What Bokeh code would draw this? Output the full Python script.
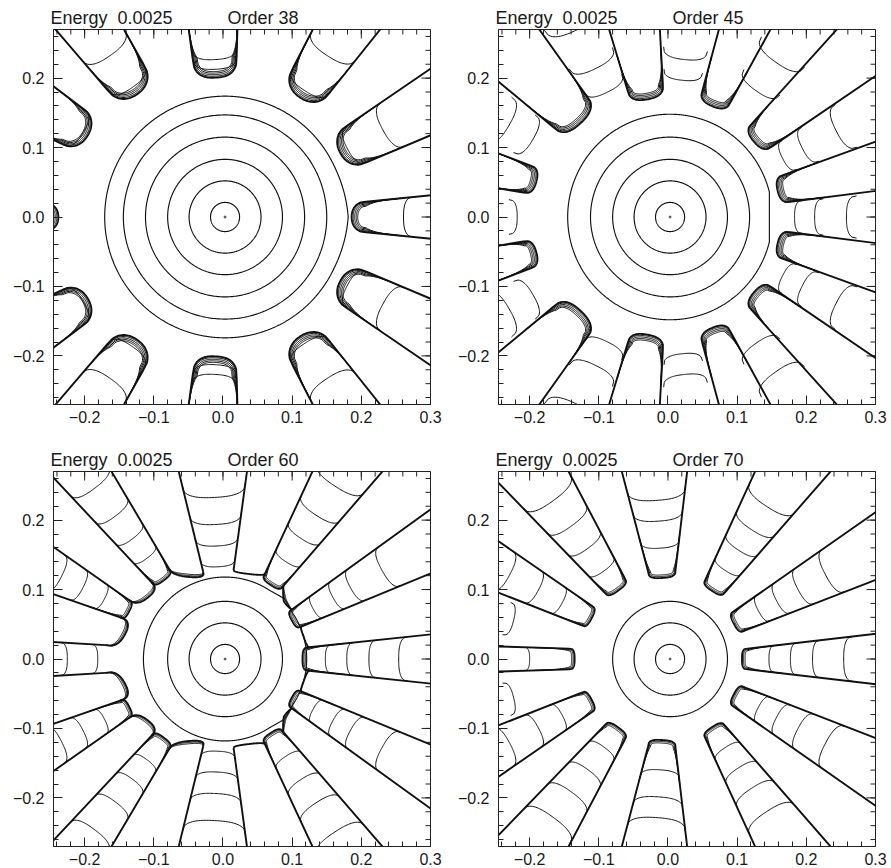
import numpy as np
from bokeh.plotting import figure
from bokeh.models import FixedTicker, Range1d
from bokeh.layouts import gridplot
from bokeh.embed import file_html
from bokeh.resources import INLINE

# ---------------------------------------------------------------- axes / text
X_RANGE = (-0.245, 0.30)
Y_RANGE = (-0.27, 0.27)
X_TICKS = [-0.2, -0.1, 0.0, 0.1, 0.2, 0.3]
X_TICK_LABELS = ["\u22120.2", "\u22120.1", "0.0", "0.1", "0.2", "0.3"]
Y_TICKS = [-0.2, -0.1, 0.0, 0.1, 0.2]
Y_TICK_LABELS = ["\u22120.2", "\u22120.1", "0.0", "0.1", "0.2"]
X_MINOR = [-0.24, -0.22, -0.20, -0.18, -0.16, -0.14, -0.12, -0.10, -0.08, -0.06,
           -0.04, -0.02, 0.0, 0.02, 0.04, 0.06, 0.08, 0.10, 0.12, 0.14, 0.16,
           0.18, 0.20, 0.22, 0.24, 0.26, 0.28, 0.30]
Y_MINOR = [-0.26, -0.24, -0.22, -0.20, -0.18, -0.16, -0.14, -0.12, -0.10, -0.08,
           -0.06, -0.04, -0.02, 0.0, 0.02, 0.04, 0.06, 0.08, 0.10, 0.12, 0.14,
           0.16, 0.18, 0.20, 0.22, 0.24, 0.26]
ENERGY = "0.0025"
ORDERS = [38, 45, 60, 70]
CENTER_X = 0.003          # centre of the invariant circles

# island kinds: 0 = arcs only, 1 = capped island,
#               2 = heavy cap closing the gap between the two neighbours,
#               3 = open-ended channel (walls, no cap)

# ---------------------------------------------------------------- order 38
RINGS_38 = [0.021, 0.052, 0.083, 0.115, 0.147]
SEP_38 = 0.174
PHI_38 = [0, 28.5, 57, 93, 125, 149, 180]
TIP_38 = [0.186, 0.193, 0.205, 0.201, 0.216, 0.228, 0.238]
HALF_38 = [0.022, 0.030, 0.032, 0.032, 0.032, 0.030, 0.020]
SPREAD_38 = [0.10, 0.10, 0.10, 0.08, 0.10, 0.10, 0.10]
KIND_38 = [1, 1, 1, 1, 1, 1, 1]
CAP_P_38 = [2.2, 2.2, 2.2, 2.6, 2.2, 2.2, 2.2]
ARCS_38 = [[0.075], [0.012, 0.07], [0.012, 0.072], [0.012, 0.026],
           [0.012, 0.068], [0.008], []]

# ---------------------------------------------------------------- order 45
RINGS_45 = [0.021, 0.052, 0.083, 0.115]
SEP_45 = 0.148
PHI_45 = [0, 13.5, 27, 41, 55, 68, 84, 100, 116, 133, 150, 165, 180]
TIP_45 = [0.162, 0.163, 0.168, 0.165, 0.172, 0.172, 0.178, 0.172, 0.180,
          0.185, 0.195, 0.197, 0.218]
HALF_45 = [0.021, 0.020, 0.020, 0.022, 0.024, 0.022, 0.024, 0.026, 0.026,
           0.033, 0.026, 0.020, 0.024]
SPREAD_45 = [0.085, 0.11, 0.12, 0.12, 0.12, 0.12, 0.12, 0.12, 0.12,
             0.13, 0.12, 0.10, 0.08]
KIND_45 = [0, 1, 0, 1, 0, 1, 0, 1, 0, 1, 0, 1, 0]
CAP_P_45 = [2.5] * 13
ARCS_45 = [[0.021, 0.050, 0.096], [], [0.018, 0.050, 0.105], [],
           [0.05, 0.10], [], [0.02, 0.05], [], [0.02, 0.058, 0.12], [],
           [0.03, 0.07], [], [0.0]]

# ---------------------------------------------------------------- order 60
RINGS_60 = [0.021, 0.052, 0.083]
SEP_60 = 0.118
PHI_60 = [0, 15, 29, 45, 57, 74, 93, 112, 127, 140, 153, 166, 180]
TIP_60 = [0.115, 0.122, 0.114, 0.121, 0.127, 0.128, 0.127, 0.128, 0.142,
          0.140, 0.152, 0.146, 0.170]
HALF_60 = [0.017, 0.014, 0.014, 0.012, 0.016, 0.022, 0.022, 0.020, 0.016,
           0.020, 0.014, 0.016, 0.020]
SPREAD_60 = [0.105, 0.10, 0.118, 0.10, 0.14, 0.10, 0.19, 0.10, 0.11, 0.10,
             0.14, 0.10, 0.06]
KIND_60 = [1, 2, 1, 2, 1, 2, 3, 2, 1, 2, 1, 2, 3]
CAP_P_60 = [3.0, 2.5, 3.0, 1.2, 3.0, 2.5, 3.0, 2.5, 3.0, 2.5, 3.0, 2.5, 3.0]
ARCS_60 = [[0.033, 0.064, 0.096, 0.139], [], [0.035, 0.068, 0.097, 0.149], [],
           [0.04, 0.08, 0.12, 0.17], [], [0.006, 0.036, 0.067, 0.106], [],
           [0.04, 0.075, 0.116, 0.166], [], [0.04, 0.075, 0.11], [],
           [0.011, 0.055]]

# ---------------------------------------------------------------- order 70
RINGS_70 = [0.021, 0.052, 0.083]
SEP_70 = None
PHI_70 = [0, 28, 57, 94, 126, 152, 166, 180]
TIP_70 = [0.107, 0.108, 0.117, 0.117, 0.122, 0.125, 0.200, 0.135]
HALF_70 = [0.015, 0.016, 0.017, 0.020, 0.018, 0.016, 0.020, 0.015]
SPREAD_70 = [0.115, 0.12, 0.145, 0.19, 0.143, 0.115, 0.10, 0.03]
KIND_70 = [1, 1, 1, 1, 1, 1, 0, 1]
CAP_P_70 = [3.0] * 8
ARCS_70 = [[0.039, 0.070, 0.102, 0.147], [0.04, 0.07, 0.105, 0.15],
           [0.035, 0.07, 0.105, 0.145], [0.043, 0.082, 0.112],
           [0.035, 0.075, 0.115, 0.16], [0.048, 0.087, 0.134], [0.03],
           [0.065]]

# ---------------------------------------------------------------- styling
LINE = "#111111"
AXIS = "#222222"
HEAVY_W = 1.9
THIN_W = 1.0
RING_W = 1.15
U_END = 0.7
ARC_P = 2.6
NEST_STEP = 0.0022
NEST_INSET = 0.0016
FRAME_W, FRAME_H = 377, 375
FONT = "Liberation Sans"

PANEL_STYLE = {
    38: dict(cap_f=0.95, arc_f=0.55, nest=4, sep_kind="corner", corners=[0.0],
             corner_h=0.004, corner_w=0.45),
    45: dict(cap_f=0.70, arc_f=0.50, nest=4, sep_kind="flat", flat_x=0.1466),
    60: dict(cap_f=0.55, arc_f=0.45, nest=2, sep_kind="corner", corners=[45.0, -45.0],
             corner_h=0.004, corner_w=0.22),
    70: dict(cap_f=0.55, arc_f=0.45, nest=2, sep_kind=None),
}


def frame_axes(phi):
    a = np.deg2rad(phi)
    return np.array([np.cos(a), np.sin(a)]), np.array([-np.sin(a), np.cos(a)])


def wall_pts(e, n, r0, h0, k, dcap, side, u):
    u = np.asarray(u, dtype=float)
    h = h0 + k * np.maximum(u - dcap, 0.0)
    return (r0 + u)[:, None] * e + side * h[:, None] * n


def cap_curve(a, b, inward, depth, p, num=41):
    t = np.linspace(-1.0, 1.0, num)
    mid = 0.5 * (a + b)
    bulge = depth * (1.0 - np.abs(t) ** p) ** (1.0 / p)
    return mid + np.outer(t, 0.5 * (b - a)) + np.outer(bulge, inward)


def cap_depth(kind, h0, style):
    return style["cap_f"] * h0 if kind == 1 else 0.0


def tube_lines(phi, r0, h0, k, arcs, kind, cap_p, style):
    heavy, thin = [], []
    e, n = frame_axes(phi)
    dcap = cap_depth(kind, h0, style)
    if kind == 3:
        for side in (-1, 1):
            heavy.append(wall_pts(e, n, r0, h0, k, 0.0, side, [0.0, U_END]))
    if kind == 1:
        u = [dcap, U_END]
        left = wall_pts(e, n, r0, h0, k, dcap, -1, u)
        right = wall_pts(e, n, r0, h0, k, dcap, 1, u)
        cap = cap_curve(left[0], right[0], -e, dcap, cap_p)
        heavy.append(np.vstack([left[::-1], cap, right]))
        # tightly nested orbits just inside the rounded end
        for i in range(1, style["nest"] + 1):
            d = i * NEST_STEP
            uu = dcap + np.linspace(0.0, 0.05, 24)
            h = h0 + k * (uu - dcap) - i * NEST_INSET * np.exp(-(uu - dcap) / 0.012)
            lw = (r0 + uu)[:, None] * e - h[:, None] * n
            rw = (r0 + uu)[:, None] * e + h[:, None] * n
            depth = max(dcap - d, 0.25 * dcap)
            c = cap_curve(lw[0], rw[0], -e, depth, cap_p)
            thin.append(np.vstack([lw[::-1], c, rw]))
    for s in arcs:
        hs = h0 + k * max(s - dcap, 0.0)
        da = style["arc_f"] * hs
        ue = s + da
        a = wall_pts(e, n, r0, h0, k, dcap, -1, [ue])[0]
        b = wall_pts(e, n, r0, h0, k, dcap, 1, [ue])[0]
        thin.append(cap_curve(a, b, -e, da, ARC_P))
    return heavy, thin


def wall_start(phi, r0, h0, k, kind, side, style):
    e, n = frame_axes(phi)
    dcap = cap_depth(kind, h0, style)
    return wall_pts(e, n, r0, h0, k, dcap, side, [dcap])[0]


def bridge_lines(i, phis, tips, halves, spreads, kinds, cap_ps, style):
    """Heavy cap joining the facing walls of the two neighbouring channels."""
    lo, hi = i - 1, i + 1
    a = wall_start(phis[lo], tips[lo], halves[lo], spreads[lo], kinds[lo], 1, style)
    b = wall_start(phis[hi], tips[hi], halves[hi], spreads[hi], kinds[hi], -1, style)
    mid = 0.5 * (a + b)
    rm = np.hypot(*mid)
    inward = -mid / rm
    depth = max(rm - tips[i], 0.002)
    heavy = [cap_curve(a, b, inward, depth, cap_ps[i])]
    thin = [cap_curve(a, b, inward, depth - j * NEST_STEP, cap_ps[i])
            for j in range(1, style["nest"] + 1) if depth - j * NEST_STEP > 0.001]
    return heavy, thin


def separatrix(radius, style):
    th = np.linspace(-np.pi, np.pi, 1441)
    r = np.full_like(th, radius)
    if style["sep_kind"] == "corner":
        for c in style["corners"]:
            d = np.abs(np.angle(np.exp(1j * (th - np.deg2rad(c)))))
            r += style["corner_h"] * np.clip(1 - d / style["corner_w"], 0, None) ** 1.5
    x = CENTER_X + r * np.cos(th)
    y = r * np.sin(th)
    if style["sep_kind"] == "flat":
        x = np.minimum(x, style["flat_x"])
    return np.column_stack([x, y])


def style_axis(ax, ticks, minor, labels, standoff):
    ax.ticker = FixedTicker(ticks=ticks, minor_ticks=minor)
    ax.major_label_overrides = {t: s for t, s in zip(ticks, labels)}
    ax.major_label_text_font = FONT
    ax.major_label_text_font_size = "16px"
    ax.major_label_text_color = "#1a1a1a"
    ax.major_label_standoff = standoff
    ax.axis_line_color = AXIS
    ax.major_tick_line_color = AXIS
    ax.minor_tick_line_color = AXIS
    ax.major_tick_in = 9
    ax.major_tick_out = 0
    ax.minor_tick_in = 5
    ax.minor_tick_out = 0


def mirror_ticks(p):
    """Inward ticks along the top and right edges of the frame."""
    dx = (X_RANGE[1] - X_RANGE[0]) / FRAME_W
    dy = (Y_RANGE[1] - Y_RANGE[0]) / FRAME_H
    x0, x1, y0, y1 = [], [], [], []
    for t, ln in [(t, 5) for t in X_MINOR] + [(t, 9) for t in X_TICKS]:
        x0.append(t); x1.append(t)
        y0.append(Y_RANGE[1]); y1.append(Y_RANGE[1] - ln * dy)
    for t, ln in [(t, 5) for t in Y_MINOR] + [(t, 9) for t in Y_TICKS]:
        y0.append(t); y1.append(t)
        x0.append(X_RANGE[1]); x1.append(X_RANGE[1] - ln * dx)
    p.segment(x0, y0, x1, y1, line_color=AXIS, line_width=1)


def mirrored(curves):
    return [np.column_stack([c[:, 0], -c[:, 1]]) for c in curves]


def make_panel(order, rings, sep, phis, tips, halves, spreads, kinds, cap_ps,
               arcs, first_row):
    style = PANEL_STYLE[order]
    p = figure(frame_width=FRAME_W, frame_height=FRAME_H,
               x_range=Range1d(*X_RANGE), y_range=Range1d(*Y_RANGE),
               output_backend="svg", toolbar_location=None,
               min_border_left=53, min_border_right=15, min_border_top=29,
               min_border_bottom=38 if first_row else 22)
    p.background_fill_color = "white"
    p.border_fill_color = "white"
    p.outline_line_color = AXIS
    p.xgrid.visible = False
    p.ygrid.visible = False
    style_axis(p.below[0], X_TICKS, X_MINOR, X_TICK_LABELS, 6)
    style_axis(p.left[0], Y_TICKS, Y_MINOR, Y_TICK_LABELS, 9)
    mirror_ticks(p)

    # heading:  "Energy  0.0025           Order NN"
    nb = "\u00a0"
    p.title.text = "Energy" + nb * 2 + ENERGY + nb * 11 + f"Order {order}"
    p.title.align = "left"
    p.title.offset = -3
    p.title.standoff = 3
    p.title.text_font = FONT
    p.title.text_font_size = "18px"
    p.title.text_font_style = "normal"
    p.title.text_color = "#1a1a1a"

    heavy, thin, ring_lines = [], [], []
    th = np.linspace(0, 2 * np.pi, 361)
    for r in rings:
        ring_lines.append(np.column_stack([CENTER_X + r * np.cos(th), r * np.sin(th)]))
    if sep is not None:
        ring_lines.append(separatrix(sep, style))

    for i, phi in enumerate(phis):
        if kinds[i] == 2:
            hv, tn = bridge_lines(i, phis, tips, halves, spreads, kinds, cap_ps, style)
        else:
            hv, tn = tube_lines(phi, tips[i], halves[i], spreads[i], arcs[i],
                                kinds[i], cap_ps[i], style)
        heavy += hv
        thin += tn
        if phi not in (0, 180):
            heavy += mirrored(hv)
            thin += mirrored(tn)

    p.multi_line([c[:, 0] for c in ring_lines], [c[:, 1] for c in ring_lines],
                 line_color=LINE, line_width=RING_W)
    p.multi_line([c[:, 0] for c in thin], [c[:, 1] for c in thin],
                 line_color=LINE, line_width=THIN_W)
    p.multi_line([c[:, 0] for c in heavy], [c[:, 1] for c in heavy],
                 line_color=LINE, line_width=HEAVY_W)
    p.scatter([CENTER_X], [0.0], size=2, color="#555555")
    return p


p1 = make_panel(ORDERS[0], RINGS_38, SEP_38, PHI_38, TIP_38, HALF_38, SPREAD_38,
                KIND_38, CAP_P_38, ARCS_38, True)
p2 = make_panel(ORDERS[1], RINGS_45, SEP_45, PHI_45, TIP_45, HALF_45, SPREAD_45,
                KIND_45, CAP_P_45, ARCS_45, True)
p3 = make_panel(ORDERS[2], RINGS_60, SEP_60, PHI_60, TIP_60, HALF_60, SPREAD_60,
                KIND_60, CAP_P_60, ARCS_60, False)
p4 = make_panel(ORDERS[3], RINGS_70, SEP_70, PHI_70, TIP_70, HALF_70, SPREAD_70,
                KIND_70, CAP_P_70, ARCS_70, False)

grid = gridplot([[p1, p2], [p3, p4]], toolbar_location=None)

with open("out.html", "w") as f:
    f.write(file_html(grid, INLINE))
